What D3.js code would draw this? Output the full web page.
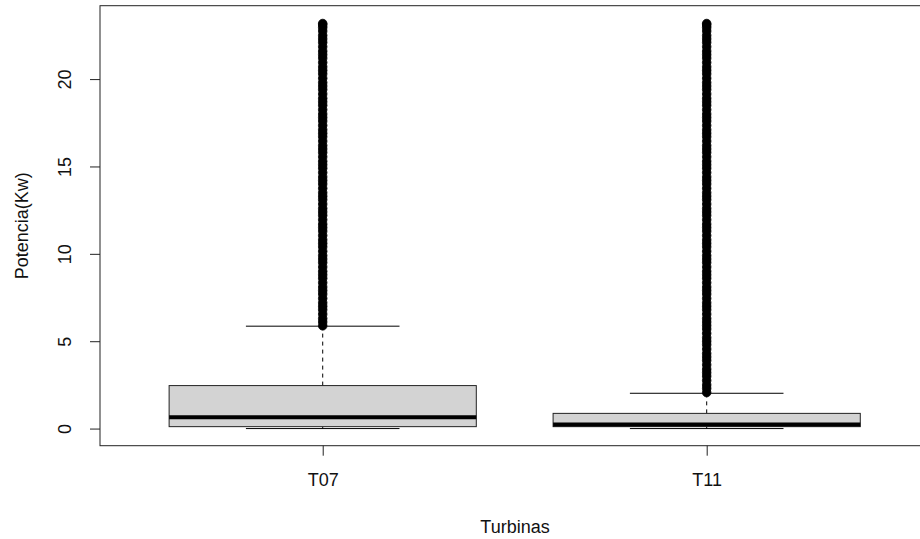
<!DOCTYPE html>
<html>
<head>
<meta charset="utf-8">
<script src="https://cdn.jsdelivr.net/npm/d3@7"></script>
<style>
  html, body { margin: 0; padding: 0; background: #fff; }
  svg { display: block; font-family: "Liberation Sans", Arial, sans-serif; }
</style>
</head>
<body>
<svg id="chart" width="920" height="539"></svg>
<script>
// ---- data ----
const categories = ["T07", "T11"];
const lowerWhisker = [0.0, 0.0];
const q1 = [0.11, 0.11];
const median = [0.65, 0.23];
const q3 = [2.46, 0.87];
const upperWhisker = [5.86, 2.02];
const outliersT07 = [5.88, 6.1, 6.3, 6.55, 6.8, 7.0, 7.2, 7.45, 7.7, 7.9, 8.1, 8.35, 8.6, 8.8, 9.0, 9.25,
  9.5, 9.7, 9.9, 10.15, 10.4, 10.6, 10.8, 11.05, 11.3, 11.5, 11.7, 11.95, 12.2, 12.4, 12.6, 12.85,
  13.1, 13.3, 13.5, 13.75, 14.0, 14.2, 14.4, 14.65, 14.9, 15.1, 15.3, 15.55, 15.8, 16.0, 16.2, 16.45,
  16.7, 16.9, 17.1, 17.35, 17.6, 17.8, 18.0, 18.25, 18.5, 18.7, 18.9, 19.15, 19.4, 19.6, 19.8, 20.05,
  20.3, 20.5, 20.7, 20.95, 21.2, 21.4, 21.6, 21.85, 22.1, 22.3, 22.5, 22.75, 22.95, 23.1, 23.18];
const outliersT11 = [2.06, 2.3, 2.5, 2.75, 3.0, 3.2, 3.4, 3.65, 3.9, 4.1, 4.3, 4.55, 4.8, 5.0, 5.2, 5.45,
  5.7, 5.9, 6.1, 6.3, 6.55, 6.8, 7.0, 7.2, 7.45, 7.7, 7.9, 8.1, 8.35, 8.6, 8.8, 9.0, 9.25,
  9.5, 9.7, 9.9, 10.15, 10.4, 10.6, 10.8, 11.05, 11.3, 11.5, 11.7, 11.95, 12.2, 12.4, 12.6, 12.85,
  13.1, 13.3, 13.5, 13.75, 14.0, 14.2, 14.4, 14.65, 14.9, 15.1, 15.3, 15.55, 15.8, 16.0, 16.2, 16.45,
  16.7, 16.9, 17.1, 17.35, 17.6, 17.8, 18.0, 18.25, 18.5, 18.7, 18.9, 19.15, 19.4, 19.6, 19.8, 20.05,
  20.3, 20.5, 20.7, 20.95, 21.2, 21.4, 21.6, 21.85, 22.1, 22.3, 22.5, 22.75, 22.95, 23.1, 23.18];
const outliers = [outliersT07, outliersT11];
const yTicks = [0, 5, 10, 15, 20];
const xTitle = "Turbinas";
const yTitle = "Potencia(Kw)";

// ---- layout ----
const plot = { left: 100, right: 929.4, top: 5.7, bottom: 445.7 };
const fontSize = "18px";
const svg = d3.select("#chart");

const x = d3.scalePoint().domain(categories).range([plot.left, plot.right]).padding(0.58);
const unit = x.step();
const y = d3.scaleLinear().domain([-0.98, 24.2]).range([plot.bottom, plot.top]);

const boxHalf = 0.4 * unit;
const capHalf = 0.2 * unit;

const stats = categories.map((c, i) => ({
  cat: c, lo: lowerWhisker[i], q1: q1[i], med: median[i], q3: q3[i], hi: upperWhisker[i], out: outliers[i]
}));

const g = svg.append("g");

stats.forEach(s => {
  const cx = x(s.cat);
  // dashed whiskers
  g.append("line").attr("x1", cx).attr("x2", cx).attr("y1", y(s.q3)).attr("y2", y(s.hi))
    .attr("stroke", "#000").attr("stroke-width", 1).attr("stroke-dasharray", "4,4");
  g.append("line").attr("x1", cx).attr("x2", cx).attr("y1", y(s.q1)).attr("y2", y(s.lo))
    .attr("stroke", "#000").attr("stroke-width", 1).attr("stroke-dasharray", "4,4");
  // caps
  [s.hi, s.lo].forEach(v => {
    g.append("line").attr("x1", cx - capHalf).attr("x2", cx + capHalf).attr("y1", y(v)).attr("y2", y(v))
      .attr("stroke", "#000").attr("stroke-width", 1);
  });
  // box
  g.append("rect").attr("x", cx - boxHalf).attr("width", 2 * boxHalf)
    .attr("y", y(s.q3)).attr("height", y(s.q1) - y(s.q3))
    .attr("fill", "#d3d3d3").attr("stroke", "#222").attr("stroke-width", 1);
  // median
  g.append("line").attr("x1", cx - boxHalf).attr("x2", cx + boxHalf).attr("y1", y(s.med)).attr("y2", y(s.med))
    .attr("stroke", "#000").attr("stroke-width", 4);
  // outliers
  g.selectAll(null).data(s.out).enter().append("circle")
    .attr("cx", cx).attr("cy", d => y(d)).attr("r", 4.3)
    .attr("fill", "#000").attr("stroke", "#000").attr("stroke-width", 0.8);
});

// frame
svg.append("rect").attr("x", plot.left).attr("y", plot.top)
  .attr("width", plot.right - plot.left).attr("height", plot.bottom - plot.top)
  .attr("fill", "none").attr("stroke", "#222").attr("stroke-width", 1);

// y axis
const yAxis = d3.axisLeft(y).tickValues(yTicks).tickSize(10).tickPadding(0);
const ya = svg.append("g").attr("transform", `translate(${plot.left},0)`).call(yAxis);
ya.select(".domain").remove();
ya.selectAll(".tick line").attr("stroke", "#222");
ya.selectAll(".tick text").remove();
ya.selectAll(".tick").append("text")
  .attr("transform", "translate(-35,0) rotate(-90)")
  .attr("text-anchor", "middle").attr("dy", "0.35em")
  .attr("fill", "#111").style("font-size", fontSize)
  .text(d => d);

// x axis
const xAxis = d3.axisBottom(x).tickSize(10).tickPadding(0);
const xa = svg.append("g").attr("transform", `translate(0,${plot.bottom})`).call(xAxis);
xa.select(".domain").remove();
xa.selectAll(".tick line").attr("stroke", "#222");
xa.selectAll(".tick text").remove();
xa.selectAll(".tick").append("text")
  .attr("y", 34).attr("dy", "0.35em").attr("text-anchor", "middle")
  .attr("fill", "#111").style("font-size", fontSize)
  .text(d => d);

// titles
svg.append("text").attr("x", 515).attr("y", 527).attr("dy", "0.35em")
  .attr("text-anchor", "middle").attr("fill", "#111").style("font-size", fontSize).text(xTitle);
svg.append("text").attr("transform", `translate(22,${(plot.top + plot.bottom) / 2}) rotate(-90)`)
  .attr("dy", "0.35em").attr("text-anchor", "middle").attr("fill", "#111").style("font-size", fontSize).text(yTitle);
</script>
</body>
</html>
